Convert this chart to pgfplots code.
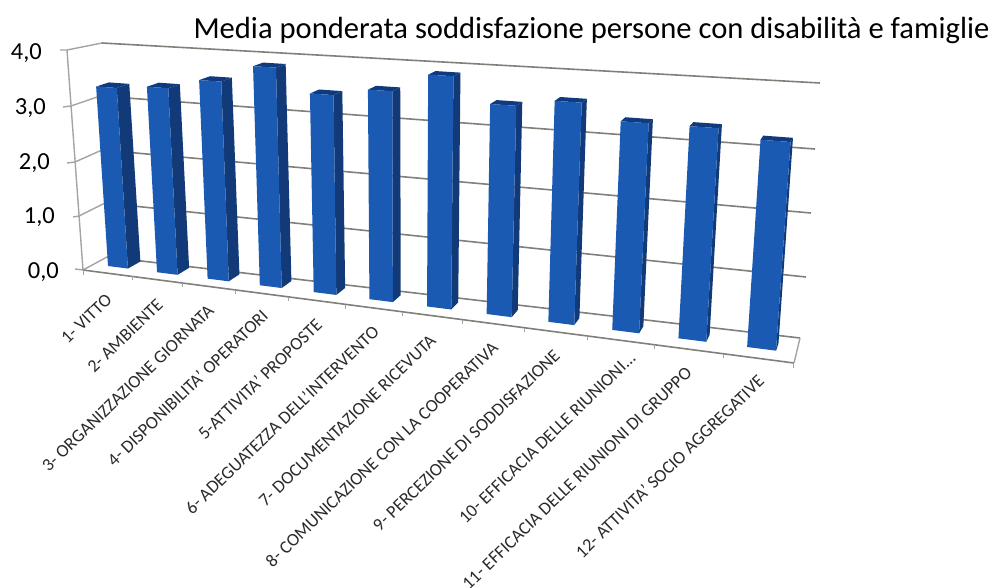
\documentclass[border=0pt]{standalone}
\usepackage{pgfplots}
\usepackage{pgfplotstable}
\usepackage{fontspec}
\pgfplotsset{compat=1.18}
\setmainfont{Carlito}
\definecolor{barfront}{HTML}{1A5AB2}
\definecolor{barside}{HTML}{123A78}
\definecolor{bartop}{HTML}{103A80}
\definecolor{gridback}{HTML}{808079}
\definecolor{wallline}{HTML}{A4A4A4}
\definecolor{labelink}{HTML}{2A2A2A}

% Corners of one bar: a = across the bar, f = share of its value, d = depth
\pgfplotstableread{
a f d
0 0 0
1 0 0
1 1 0
0 1 0
}\frontface
\pgfplotstableread{
a f d
1 0 0
1 0 1
1 1 1
1 1 0
}\sideface
\pgfplotstableread{
a f d
0 1 0
1 1 0
1 1 1
0 1 1
}\topface

% One bar of the chart: #1 = category number, #2 = value
\newcommand{\drawbar}[2]{%
  \addplot[draw=none,fill=barside,mark=none] table[
    x expr={PX(#1-0.8+0.41*\thisrow{a},#2*\thisrow{f},\thisrow{d})},
    y expr={PY(#1-0.8+0.41*\thisrow{a},#2*\thisrow{f},\thisrow{d})}] {\sideface};
  \addplot[draw=none,fill=bartop,mark=none] table[
    x expr={PX(#1-0.8+0.41*\thisrow{a},#2*\thisrow{f},\thisrow{d})},
    y expr={PY(#1-0.8+0.41*\thisrow{a},#2*\thisrow{f},\thisrow{d})}] {\topface};
  \addplot[draw=none,fill=barfront,mark=none] table[
    x expr={PX(#1-0.8+0.41*\thisrow{a},#2*\thisrow{f},\thisrow{d})},
    y expr={PY(#1-0.8+0.41*\thisrow{a},#2*\thisrow{f},\thisrow{d})}] {\frontface};
}

\begin{document}
\begin{tikzpicture}
\clip (0,0) rectangle (993pt,587pt);
\begin{axis}[
  at={(0,0)}, anchor=south west,
  scale only axis, width=993pt, height=587pt,
  xmin=0, xmax=993, ymin=0, ymax=587, y dir=reverse,
  hide axis, clip=false,
  % perspective projection of category position and value onto the page
  declare function={
    tt(\u)=(\u/12)*0.8158/(1-0.1842*\u/12);
    ss(\v)=(\v/4)*0.965/(1-0.035*\v/4);
    PX(\u,\v,\d)=(98.4+705.5*tt(\u))*(1-ss(\v))+(83.5+739.9*tt(\u))*ss(\v)+\d*(13-0.91*\u);
    PY(\u,\v,\d)=(264.8+89.4*tt(\u))*(1-ss(\v))+(47.8+44.4*tt(\u))*ss(\v)+\d*(-7+3.5*ss(\v));
  },
]
% Left wall and floor edges
\addplot[wallline,line width=1.4pt,mark=none] coordinates {(60,50) (67,50) (102,43)};
\addplot[wallline,line width=1.4pt,mark=none] coordinates {(67,50) (83,270)};
\addplot[wallline,line width=1.4pt,mark=none] coordinates {(63,107) (71,106) (100,96)};
\addplot[wallline,line width=1.4pt,mark=none] coordinates {(67,163) (75,162) (102,150)};
\addplot[wallline,line width=1.4pt,mark=none] coordinates {(73,217) (79,216) (105,203)};
\addplot[wallline,line width=1.4pt,mark=none] coordinates {(75,269) (83,270) (107,257)};
% Back wall grid lines
\addplot[gridback,line width=1.6pt,mark=none] coordinates {(102,43) (820,83)};
\addplot[gridback,line width=1.6pt,mark=none] coordinates {(100,96) (815,149)};
\addplot[gridback,line width=1.6pt,mark=none] coordinates {(102,150) (811,213)};
\addplot[gridback,line width=1.6pt,mark=none] coordinates {(105,203) (806,277)};
\addplot[gridback,line width=1.6pt,mark=none] coordinates {(107,257) (800,338)};
% Front and right floor edges with category ticks
\addplot[gridback,line width=1.6pt,mark=none] coordinates {(83,270) (794,363)};
\addplot[wallline,line width=1.4pt,mark=none] coordinates {(794,363) (800,338)};
\addplot[wallline,line width=1pt,mark=none] coordinates {(83,270) (83,275)};
\addplot[wallline,line width=1pt,mark=none] coordinates {(132,276) (132,280)};
\addplot[wallline,line width=1pt,mark=none] coordinates {(182,283) (182,287)};
\addplot[wallline,line width=1pt,mark=none] coordinates {(235,290) (235,294)};
\addplot[wallline,line width=1pt,mark=none] coordinates {(288,297) (288,301)};
\addplot[wallline,line width=1pt,mark=none] coordinates {(345,305) (345,309)};
\addplot[wallline,line width=1pt,mark=none] coordinates {(402,312) (402,316)};
\addplot[wallline,line width=1pt,mark=none] coordinates {(462,320) (462,324)};
\addplot[wallline,line width=1pt,mark=none] coordinates {(524,328) (524,332)};
\addplot[wallline,line width=1pt,mark=none] coordinates {(587,336) (587,340)};
\addplot[wallline,line width=1pt,mark=none] coordinates {(654,345) (654,349)};
\addplot[wallline,line width=1pt,mark=none] coordinates {(723,354) (723,358)};
\addplot[wallline,line width=1pt,mark=none] coordinates {(793,363) (793,368)};
% Bars
\drawbar{1}{3.32}
\drawbar{2}{3.38}
\drawbar{3}{3.56}
\drawbar{4}{3.86}
\drawbar{5}{3.46}
\drawbar{6}{3.59}
\drawbar{7}{3.90}
\drawbar{8}{3.49}
\drawbar{9}{3.61}
\drawbar{10}{3.36}
\drawbar{11}{3.36}
\drawbar{12}{3.23}
% Title
\node[anchor=center,inner sep=0pt,text=black] at (axis cs:591.5,31)
  {\fontsize{30.6}{33}\selectfont Media ponderata soddisfazione persone con disabilità e famiglie};
% Value axis labels
\node[anchor=east,inner sep=0pt,text=black] at (axis cs:42,53) {\fontsize{24.5}{26}\selectfont 4,0};
\node[anchor=east,inner sep=0pt,text=black] at (axis cs:46,108) {\fontsize{24.5}{26}\selectfont 3,0};
\node[anchor=east,inner sep=0pt,text=black] at (axis cs:50,163) {\fontsize{24.5}{26}\selectfont 2,0};
\node[anchor=east,inner sep=0pt,text=black] at (axis cs:55,217) {\fontsize{24.5}{26}\selectfont 1,0};
\node[anchor=east,inner sep=0pt,text=black] at (axis cs:59,272) {\fontsize{24.5}{26}\selectfont 0,0};
% Category labels
\tikzset{catlabel/.style={anchor=east,inner sep=0pt,rotate=44,text=labelink,font=\fontsize{18}{20}\selectfont}}
\node[catlabel] at (axis cs:109,297) {1- VITTO};
\node[catlabel] at (axis cs:160,302) {2- AMBIENTE};
\node[catlabel] at (axis cs:211,308) {3- ORGANIZZAZIONE GIORNATA};
\node[catlabel] at (axis cs:265,313) {4- DISPONIBILITA' OPERATORI};
\node[catlabel] at (axis cs:319,322) {5-ATTIVITA' PROPOSTE};
\node[catlabel] at (axis cs:376,329) {6- ADEGUATEZZA DELL'INTERVENTO};
\node[catlabel] at (axis cs:433,338) {7- DOCUMENTAZIONE RICEVUTA};
\node[catlabel] at (axis cs:495,345) {8- COMUNICAZIONE CON LA COOPERATIVA};
\node[catlabel] at (axis cs:557,353) {9- PERCEZIONE DI SODDISFAZIONE};
\node[catlabel] at (axis cs:633,355) {10- EFFICACIA DELLE RIUNIONI...};
\node[catlabel] at (axis cs:689,370) {11- EFFICACIA DELLE RIUNIONI DI GRUPPO};
\node[catlabel] at (axis cs:761,378) {12- ATTIVITA' SOCIO AGGREGATIVE};
\end{axis}
\end{tikzpicture}
\end{document}
